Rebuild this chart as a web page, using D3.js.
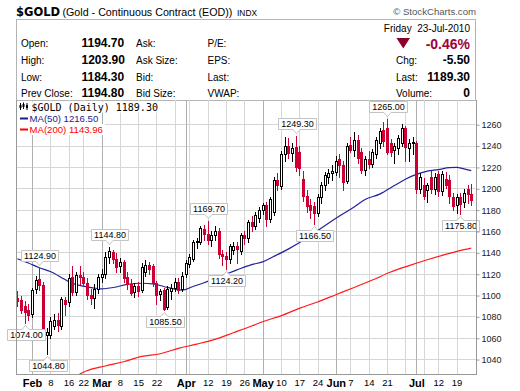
<!DOCTYPE html>
<html><head><meta charset="utf-8">
<script src="https://cdn.jsdelivr.net/npm/d3@7"></script>
<style>body{margin:0;background:#fff}svg{display:block}</style>
</head><body>
<svg id="c" width="520" height="391"></svg>
<script>
// ---------- DATA ----------
const firstDay = "2010-01-26", lastDay = "2010-07-23";
const holidays = ["2010-02-15","2010-04-02","2010-05-31","2010-07-05"];

const opens  = [1097,1095,1090,1086,1082,1106,1115,1109,1063,1063,1071,1077,1071,1095,1093,1117,1103,1119,1117,1111,1100,1097,1106,1117,1120,1136,1140,1134,1127,1131,1117,1110,1103,1108,1105,1122,1128,1127,1111,1101,1105,1089,1104,1107,1112,1106,1120,1129,1134,1150,1150,1162,1157,1152,1156,1160,1138,1137,1134,1142,1146,1141,1156,1153,1168,1165,1172,1180,1184,1171,1178,1208,1202,1232,1240,1233,1239,1234,1209,1193,1184,1183,1177,1192,1203,1211,1214,1215,1227,1222,1207,1241,1236,1245,1234,1217,1227,1223,1232,1242,1255,1256,1242,1236,1238,1242,1256,1238,1242,1242,1199,1203,1198,1211,1199,1213,1197,1209,1208,1192,1184,1192,1187,1199,1194.7];
const highs  = [1104,1099,1094,1092,1107,1118,1124.9,1112,1069,1079,1082,1083,1098,1098,1120,1127,1122,1127,1122,1116,1106,1110,1120,1124,1140,1144.8,1142,1139,1135,1133,1122,1115,1111,1112,1130,1133,1131,1129,1113,1106,1107,1108,1110,1116,1116,1122,1133,1138,1152,1153,1165,1166,1169.7,1160,1165,1163,1142,1140,1148,1150,1150,1158,1160,1170,1174,1178,1182,1186,1187,1192,1211,1214,1235,1248,1247,1242,1249.3,1240,1216,1198,1190,1187,1195,1206,1215,1218,1222,1230,1232,1226,1242,1248,1253,1250,1238,1230,1235,1237,1248,1256,1262,1265,1246,1242,1250,1260,1258,1246,1248,1244,1214,1210,1205,1216,1214,1216,1216,1215,1212,1196,1195,1196,1199,1203,1203.9];
const lows   = [1090,1083,1074,1077,1079,1102,1105,1062,1044.8,1060,1068,1066,1068,1081,1090,1100,1100,1110,1108,1096,1092,1088,1102,1112,1116,1130,1130,1122,1122,1112,1106,1100,1098,1099,1103,1118,1120,1108,1092,1095,1085.5,1087,1096,1104,1102,1104,1117,1126,1132,1144,1148,1152,1148,1146,1152,1135,1128,1124.2,1130,1138,1130,1138,1148,1150,1160,1162,1168,1176,1165,1168,1175,1198,1199,1226,1228,1226,1216,1212,1188,1178,1172,1166.5,1174,1186,1198,1205,1208,1212,1211,1198,1205,1234,1230,1224,1214,1212,1219,1220,1228,1238,1240,1232,1230,1224,1232,1240,1226,1226,1232,1196,1196,1190,1187,1196,1195,1193,1194,1200,1186,1180,1177,1175.8,1182,1186,1184.3];
const closes = [1094,1086,1084,1081,1105,1114,1109,1065,1065,1076,1077,1072,1096,1092,1116,1103,1119,1117,1111,1100,1097,1106,1117,1120,1136,1141,1134,1126,1131,1116,1110,1102,1108,1104,1126,1128,1124,1111,1100,1104,1087,1106,1107,1112,1105,1118,1130,1136,1150,1151,1163,1157,1152,1156,1160,1138,1137,1134,1146,1146,1143,1156,1153,1168,1165,1175,1180,1184,1171,1190,1208,1203,1232,1240,1233,1238,1220,1219,1193,1183,1180,1177,1192,1203,1212,1214,1216,1226,1222,1206,1240,1236,1245,1228,1217,1227,1223,1234,1245,1254,1244,1234,1234,1240,1247,1256,1239,1242,1243,1199,1211,1193,1203,1199,1211,1197,1213,1203,1193,1183,1192,1185,1196,1194.8,1189.3];

const ma50Day = [0,3,6,9,12,14,18,21,23,27,30,34,37,40,43,45,48,51,54,57,60,64,67,70,74,78,81,84,88,92,95,99,103,106,109,112,115,118,120,122,124];
const ma50Val = [1134,1130,1125.5,1122,1116.5,1112.5,1108.3,1106.5,1105.8,1107.5,1110,1111,1110.5,1108,1105.5,1104.6,1108,1111.5,1115.5,1119.5,1123.5,1128.5,1131,1136,1143,1151,1158,1165,1174,1182.5,1189.5,1194.5,1202.5,1208.5,1213,1216,1217.5,1219.3,1219.5,1218.2,1216.5];
const ma200Day = [17,19,24,29,34,39,44,49,54,59,64,67,72,77,82,87,92,97,102,107,112,117,122,124];
const ma200Val = [1026,1029,1033.5,1037.5,1042.5,1045,1050,1054,1058.5,1064.7,1071,1075,1080.5,1087.5,1093.5,1100.3,1107,1114,1121.5,1127.5,1133,1138,1142.5,1143.96];

const yTicks = [1040,1060,1080,1100,1120,1140,1160,1180,1200,1220,1240,1260];
const xTickDates  = ["2010-02-01","2010-02-08","2010-02-16","2010-02-22","2010-03-01","2010-03-08","2010-03-15","2010-03-22","2010-04-01","2010-04-12","2010-04-19","2010-04-26","2010-05-03","2010-05-10","2010-05-17","2010-05-24","2010-06-01","2010-06-07","2010-06-14","2010-06-21","2010-07-01","2010-07-12","2010-07-19"];
const xTickLabels = ["Feb","8","16","22","Mar","8","15","22","Apr","12","19","26","May","10","17","24","Jun","7","14","21","Jul","12","19"];
const extraGridDates = ["2010-03-29","2010-04-05","2010-06-28","2010-07-06"];

const annoDates  = ["2010-01-28","2010-02-03","2010-02-05","2010-03-03","2010-03-24","2010-04-12","2010-04-19","2010-05-14","2010-05-21","2010-06-21","2010-07-20"];
const annoValues = [1074.00,1124.90,1044.80,1144.80,1085.50,1169.70,1124.20,1249.30,1166.50,1265.00,1175.80];
const annoSides  = ["low","high","low","high","low","high","low","high","low","high","low"];

// ---------- BUILD ----------
const fmt = d3.utcFormat("%Y-%m-%d");
const dates = [];
for (let d = new Date(firstDay+"T00:00:00Z"); fmt(d) <= lastDay; d = new Date(d.getTime()+86400000)) {
  const wd = d.getUTCDay(), s = fmt(d);
  if (wd !== 0 && wd !== 6 && !holidays.includes(s)) dates.push(s);
}
const data = dates.map((d,i)=>({d, o:opens[i], h:highs[i], l:lows[i], c:closes[i], k:i}));

const L=16, R=476, T=100, B=374;
const svg = d3.select("#c");
const x = d3.scaleLinear().domain([-0.37, 125.3]).range([L, R]);
const y = d3.scaleLinear().domain([1026, 1282.7]).range([B, T]);
const px = v => Math.round(v) + 0.5;

// header
svg.append("text").attr("x",16).attr("y",16).attr("font-family","DejaVu Sans").attr("font-weight","bold").attr("font-size","11.5px").text("$GOLD");
svg.append("text").attr("x",62.5).attr("y",16).attr("font-family","Liberation Sans").attr("font-size","10.7px").text("(Gold - Continuous Contract (EOD))");
svg.append("text").attr("x",237).attr("y",16).attr("font-family","Liberation Sans").attr("font-size","8.4px").text("INDX");
svg.append("text").attr("x",476).attr("y",15).attr("text-anchor","end").attr("font-family","Liberation Sans").attr("font-size","9.6px").attr("fill","#555").text("\u00A9 StockCharts.com");

svg.append("rect").attr("x",16.5).attr("y",19.5).attr("width",459).attr("height",81).attr("fill","none").attr("stroke","#b4b4b4");

const rowsY = [47,64,81,97];
const lab1 = ["Open:","High:","Low:","Prev Close:"];
const val1 = ["1194.70","1203.90","1184.30","1194.80"];
const lab2 = ["Ask:","Ask Size:","Bid:","Bid Size:"];
const lab3 = ["P/E:","EPS:","Last:","VWAP:"];
const hdr = svg.append("g").attr("font-family","Liberation Sans").attr("fill","#000");
rowsY.forEach((yy,i)=>{
  hdr.append("text").attr("x",21).attr("y",yy).attr("font-size","10px").text(lab1[i]);
  hdr.append("text").attr("x",81.5).attr("y",yy).attr("font-size","12px").attr("font-weight","bold").text(val1[i]);
  hdr.append("text").attr("x",136).attr("y",yy).attr("font-size","10px").text(lab2[i]);
  hdr.append("text").attr("x",207.5).attr("y",yy).attr("font-size","10px").text(lab3[i]);
});
hdr.append("text").attr("x",470).attr("y",31.5).attr("text-anchor","end").attr("font-size","10px").attr("xml:space","preserve").text("Friday  23-Jul-2010");
hdr.append("path").attr("d","M396.5,38 L410,38 L403.25,48.5 Z").attr("fill","#8a0028");
hdr.append("text").attr("x",470).attr("y",48.5).attr("text-anchor","end").attr("font-size","14px").attr("font-weight","bold").attr("fill","#a0003a").text("-0.46%");
const rl = ["Chg:","Last:","Volume:"], rv = ["-5.50","1189.30","0"], ry=[64,80.5,96.5];
rl.forEach((t,i)=>{
  hdr.append("text").attr("x",396).attr("y",ry[i]).attr("font-size","10px").text(t);
  hdr.append("text").attr("x",470).attr("y",ry[i]).attr("text-anchor","end").attr("font-size","12px").attr("font-weight","bold").text(rv[i]);
});

// grid
const grid = svg.append("g");
yTicks.forEach(v=>{
  grid.append("line").attr("x1",L).attr("x2",R).attr("y1",px(y(v))).attr("y2",px(y(v))).attr("stroke","#d6d6d6");
});
const monthSet = new Set(["Feb","Mar","Apr","May","Jun","Jul"]);
const gridDates = xTickDates.concat(extraGridDates);
gridDates.forEach(ds=>{
  const k = dates.indexOf(ds);
  const li = xTickDates.indexOf(ds);
  const isMonth = li>=0 && monthSet.has(xTickLabels[li]);
  grid.append("line").attr("x1",px(x(k))).attr("x2",px(x(k))).attr("y1",T).attr("y2",B)
    .attr("stroke", isMonth ? "#b0b0b0" : "#d6d6d6");
});

// clip
svg.append("clipPath").attr("id","pc").append("rect").attr("x",L).attr("y",T).attr("width",R-L).attr("height",B-T);
const plot = svg.append("g").attr("clip-path","url(#pc)");

// MA lines
const ma200 = ma200Day.map((k,i)=>[k,ma200Val[i]]);
const ma50 = ma50Day.map((k,i)=>[k,ma50Val[i]]);
const line = d3.line().x(d=>x(d[0])).y(d=>y(d[1])).curve(d3.curveMonotoneX);
plot.append("path").attr("d",line(ma200)).attr("fill","none").attr("stroke","#ff1a1a").attr("stroke-width",1.2);
plot.append("path").attr("d",line(ma50)).attr("fill","none").attr("stroke","#23239b").attr("stroke-width",1.2);

// candles
const red = "#cc0033";
const cg = plot.append("g");
data.forEach(d=>{
  const cx = Math.round(x(d.k));
  const up = d.c >= d.o;
  const col = up ? "#000" : red;
  cg.append("line").attr("x1",cx+0.5).attr("x2",cx+0.5).attr("y1",Math.round(y(d.h))).attr("y2",Math.round(y(d.l))+1).attr("stroke",col);
  const yt = Math.round(y(Math.max(d.o,d.c))), yb = Math.round(y(Math.min(d.o,d.c)));
  if (up) {
    cg.append("rect").attr("x",cx-1+0.5).attr("y",yt+0.5).attr("width",2).attr("height",Math.max(yb-yt,1)).attr("fill","#fff").attr("stroke","#000");
  } else {
    cg.append("rect").attr("x",cx-1).attr("y",yt).attr("width",3).attr("height",Math.max(yb-yt,1)+1).attr("fill",red);
  }
});

// annotations
const ag = svg.append("g");
annoDates.forEach((ds,i)=>{
  const k = dates.indexOf(ds);
  const cx = Math.round(x(k))+0.5;
  const py = y(annoValues[i]);
  const t = ag.append("text").attr("font-family","Liberation Sans").attr("font-size","9px").attr("text-anchor","middle").text(annoValues[i].toFixed(2));
  const tw = t.node().getComputedTextLength();
  const bw = Math.round(tw+5), bh = 11;
  const left = Math.round(cx - bw/2) + 0.5, right = left + bw;
  let p;
  if (annoSides[i]==="high") {
    const tip = Math.round(py) - 2.5, bot = tip - 4, top = bot - bh;
    p = `M${left},${top}H${right}V${bot}H${cx+3.5}L${cx},${tip}L${cx-3.5},${bot}H${left}Z`;
    t.attr("y", bot-2.5);
  } else {
    const tip = Math.round(py) + 2.5, top = tip + 4, bot = top + bh;
    p = `M${left},${top}H${cx-3.5}L${cx},${tip}L${cx+3.5},${top}H${right}V${bot}H${left}Z`;
    t.attr("y", bot-2.5);
  }
  t.attr("x", (left+right)/2);
  ag.insert("path","text").attr("d",p).attr("fill","#fff").attr("stroke","#c4c4c4");
  t.raise();
});

// legend
const lg = svg.append("g");
function legRow(xs, yy, str, col, fam, fs){
  const t = lg.append("text").attr("x",xs).attr("y",yy).attr("font-family",fam).attr("font-size",fs).attr("fill",col).text(str);
  const w = t.node().getComputedTextLength();
  lg.insert("rect","text").attr("x",17).attr("y",yy-9).attr("width",xs-17+w+2).attr("height",11).attr("fill","#fff");
}
legRow(31.5,110.5,"$GOLD (Daily) 1189.30","#000","DejaVu Sans Mono","10px");
legRow(29.5,122,"MA(50) 1216.50","#1c1c8c","Liberation Sans","9.6px");
legRow(29.5,133,"MA(200) 1143.96","#ff0000","Liberation Sans","9.6px");
// icon
[[20,103,110,105,108],[23,102.5,109,104,107],[26.5,103,110,105,108]].forEach(a=>{
  lg.append("line").attr("x1",a[0]+0.5).attr("x2",a[0]+0.5).attr("y1",a[1]).attr("y2",a[2]).attr("stroke","#000");
  lg.append("rect").attr("x",a[0]-0.5).attr("y",a[3]).attr("width",2).attr("height",a[4]-a[3]).attr("fill","#000");
});
lg.append("line").attr("x1",20).attr("x2",28).attr("y1",118.5).attr("y2",118.5).attr("stroke","#1c1c8c").attr("stroke-width",2);
lg.append("line").attr("x1",20).attr("x2",28).attr("y1",129.5).attr("y2",129.5).attr("stroke","#ff0000").attr("stroke-width",2);

// borders
svg.append("line").attr("x1",L+0.5).attr("x2",L+0.5).attr("y1",T).attr("y2",B).attr("stroke","#999");
svg.append("line").attr("x1",R+0.5).attr("x2",R+0.5).attr("y1",T).attr("y2",B).attr("stroke","#999");

// axes
const yAxis = d3.axisRight(y).tickValues(yTicks).tickSize(3).tickPadding(2).tickFormat(d3.format("d"));
const ya = svg.append("g").attr("transform",`translate(${R+0.5},0.5)`).call(yAxis);
ya.select(".domain").remove();
ya.selectAll(".tick line").attr("stroke","#999");
ya.selectAll("text").attr("font-family","Liberation Sans").attr("font-size","9px").attr("fill","#222");

const xa = svg.append("g").attr("transform",`translate(0,${B+0.5})`)
  .call(d3.axisBottom(x).tickValues(xTickDates.map(s=>dates.indexOf(s))).tickSize(0).tickPadding(5)
    .tickFormat((d,i)=>xTickLabels[i]));
xa.select(".domain").attr("stroke","#999").attr("d",`M${L},0H${R+1}`);
xa.selectAll("text").attr("font-family","Liberation Sans").attr("fill","#000")
  .attr("font-size",(d,i)=>monthSet.has(xTickLabels[i])?"11px":"9.5px")
  .attr("font-weight",(d,i)=>monthSet.has(xTickLabels[i])?"bold":"normal")
  .attr("dy","0.71em");
</script>
</body></html>
